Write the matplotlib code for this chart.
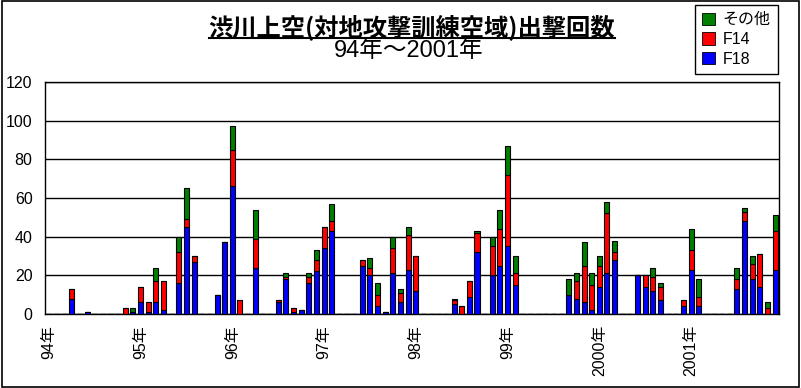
import matplotlib
matplotlib.use("Agg")
import matplotlib.pyplot as plt
from matplotlib.lines import Line2D
from matplotlib.patches import Patch, Rectangle
import numpy as np

JP = "Noto Sans CJK JP"
LAT = ["Liberation Sans", JP]

# monthly sorties, Jan 1994 .. Dec 2001 (one row per year)
f18 = [
    0, 0, 0, 8, 0, 1, 0, 0, 0, 0, 0, 1,          # 94
    6, 1, 6, 2, 0, 16, 45, 27, 0, 0, 10, 37,     # 95
    66, 0, 0, 24, 0, 0, 6, 18, 1, 2, 16, 22,     # 96
    34, 43, 0, 0, 0, 25, 20, 4, 1, 21, 6, 23,    # 97
    12, 0, 0, 0, 0, 5, 0, 9, 32, 0, 20, 25,      # 98
    35, 15, 0, 0, 0, 0, 0, 0, 10, 8, 6, 2,       # 99
    14, 21, 28, 0, 0, 20, 14, 12, 7, 0, 0, 4,    # 2000
    23, 4, 0, 0, 0, 0, 13, 48, 18, 14, 0, 23,    # 2001
]
f14 = [
    0, 0, 0, 5, 0, 0, 0, 0, 0, 0, 3, 0,
    8, 5, 11, 15, 0, 16, 4, 3, 0, 0, 0, 0,
    19, 7, 0, 15, 0, 0, 1, 1, 2, 0, 3, 6,
    11, 5, 0, 0, 0, 3, 4, 6, 0, 13, 5, 18,
    18, 0, 0, 0, 0, 2, 4, 8, 10, 0, 15, 19,
    37, 6, 0, 0, 0, 0, 0, 0, 0, 9, 19, 13,
    11, 31, 4, 0, 0, 0, 6, 7, 7, 0, 0, 3,
    10, 5, 0, 0, 0, 0, 5, 5, 8, 17, 3, 20,
]
other = [
    0, 0, 0, 0, 0, 0, 0, 0, 0, 0, 0, 2,
    0, 0, 7, 0, 0, 8, 16, 0, 0, 0, 0, 0,
    12, 0, 0, 15, 0, 0, 0, 2, 0, 0, 2, 5,
    0, 9, 0, 0, 0, 0, 5, 6, 0, 6, 2, 4,
    0, 0, 0, 0, 0, 1, 0, 0, 1, 0, 5, 10,
    15, 9, 0, 0, 0, 0, 0, 0, 8, 4, 12, 6,
    5, 6, 6, 0, 0, 0, 0, 5, 2, 0, 0, 0,
    11, 9, 0, 0, 0, 0, 6, 2, 4, 0, 3, 8,
]
year_labels = ["94年", "95年", "96年", "97年", "98年", "99年", "2000年", "2001年"]

f18 = np.array(f18)
f14 = np.array(f14)
other = np.array(other)
x = np.arange(len(f18))

fig = plt.figure(figsize=(8.01, 3.88), dpi=100)
ax = fig.add_axes([45 / 801, 1 - 314 / 388, 734 / 801, 232 / 388])

kw = dict(width=0.66, edgecolor="black", linewidth=0.8, zorder=3)
ax.bar(x, f18, color="#0000ff", **kw)
ax.bar(x, f14, bottom=f18, color="#ff0000", **kw)
ax.bar(x, other, bottom=f18 + f14, color="#008000", **kw)

ax.set_xlim(-0.5, len(x) - 0.5)
ax.set_ylim(0, 120)
ax.set_yticks(range(0, 121, 20))
ax.yaxis.grid(True, color="black", linewidth=1.0, zorder=0)
ax.tick_params(axis="y", length=0, pad=9, labelsize=11.5)
for lb in ax.get_yticklabels():
    lb.set_family(LAT)

ax.set_xticks(range(0, len(x), 12))
ax.set_xticklabels(year_labels, rotation=90, family=LAT, fontsize=11.5)
ax.tick_params(axis="x", length=0, pad=8)
for s in ax.spines.values():
    s.set_linewidth(1.0)

# title, underlined
t = fig.text(412 / 801, 1 - 27 / 388, "渋川上空(対地攻撃訓練空域)出撃回数",
             ha="center", va="center", fontsize=17.5, fontweight="bold", family=JP)
fig.text(409 / 801, 1 - 51 / 388, "94年～2001年", ha="center", va="center",
         fontsize=17, family=LAT)
fig.canvas.draw()
bb = t.get_window_extent().transformed(fig.transFigure.inverted())
fig.add_artist(Line2D([bb.x0, bb.x1], [bb.y0 + 0.004, bb.y0 + 0.004],
                      color="black", linewidth=1.5, transform=fig.transFigure))

handles = [Patch(facecolor=c, edgecolor="black", linewidth=0.6)
           for c in ("#008000", "#ff0000", "#0000ff")]
leg = fig.legend(handles, ["その他", "F14", "F18"], loc="upper right",
                 bbox_to_anchor=(778 / 801, 1 - 5 / 388), borderaxespad=0,
                 fancybox=False, framealpha=1, edgecolor="black",
                 prop={"family": LAT, "size": 11.5}, handlelength=0.8,
                 handleheight=0.8, handletextpad=0.5, labelspacing=0.3,
                 borderpad=0.45)
leg.get_frame().set_linewidth(1.0)

# outer border of the chart area
fig.add_artist(Rectangle((0.002, 0.003), 0.996, 0.994, transform=fig.transFigure,
                         fill=False, edgecolor="black", linewidth=1.2))

fig.savefig("out.png", dpi=100)
